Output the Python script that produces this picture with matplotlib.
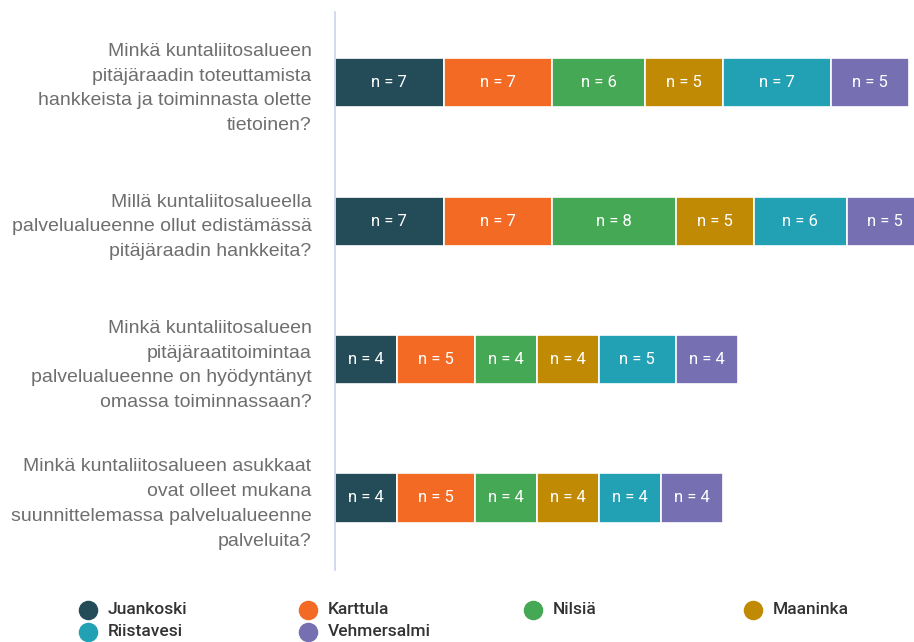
import matplotlib.pyplot as plt
import numpy as np

plt.rcParams['font.family'] = ['Roboto', 'DejaVu Sans']

# Kysymykset (rivit ylhäältä alas)
kysymykset = [
    "Minkä kuntaliitosalueen\npitäjäraadin toteuttamista\nhankkeista ja toiminnasta olette\ntietoinen?",
    "Millä kuntaliitosalueella\npalvelualueenne ollut edistämässä\npitäjäraadin hankkeita?",
    "Minkä kuntaliitosalueen\npitäjäraatitoimintaa\npalvelualueenne on hyödyntänyt\nomassa toiminnassaan?",
    "Minkä kuntaliitosalueen asukkaat\novat olleet mukana\nsuunnittelemassa palvelualueenne\npalveluita?",
]

alueet = ["Juankoski", "Karttula", "Nilsiä", "Maaninka", "Riistavesi", "Vehmersalmi"]
varit = ["#234B58", "#F26A24", "#45A854", "#C18A04", "#22A1B5", "#7670B3"]

# n-arvot per alue, järjestyksessä kysymykset
juankoski = [7, 7, 4, 4]
karttula = [7, 7, 5, 5]
nilsia = [6, 8, 4, 4]
maaninka = [5, 5, 4, 4]
riistavesi = [7, 6, 5, 4]
vehmersalmi = [5, 5, 4, 4]
arvot = [juankoski, karttula, nilsia, maaninka, riistavesi, vehmersalmi]

fig = plt.figure(figsize=(9.14, 6.42), dpi=100)
ax = fig.add_axes([335/914, 72/642, 1 - 335/914, 558/642])

y = np.arange(len(kysymykset))
vasen = np.zeros(len(kysymykset))
for nimi, vari, n in zip(alueet, varit, arvot):
    n = np.array(n)
    bars = ax.barh(y, n, left=vasen, height=0.355, color=vari,
                   edgecolor="white", linewidth=1.2, label=nimi)
    for rect, val in zip(bars, n):
        ax.text(rect.get_x() + rect.get_width()/2, rect.get_y() + rect.get_height()/2,
                f"n = {val}", ha="center", va="center", color="white", fontsize=12)
    vasen += n

ax.set_xlim(0, 37.35)
ax.set_ylim(3.52, -0.51)
ax.set_xticks([])
ax.set_yticks(y)
ax.set_yticklabels(kysymykset, fontsize=14, color="#6E6E6E", linespacing=1.6,
                   family=["Liberation Sans", "DejaVu Sans"])
ax.tick_params(axis="y", length=0, pad=17)
for s in ["top", "right", "bottom"]:
    ax.spines[s].set_visible(False)
ax.spines["left"].set_color("#C9D3EA")
ax.spines["left"].set_linewidth(1.2)

# Selite käsin, 4 saraketta
lax = fig.add_axes([0, 0, 1, 72/642])
lax.set_xlim(0, 914)
lax.set_ylim(72, 0)
lax.axis("off")
sarake_x = [88, 308, 533, 753]
rivi_y = [40, 62]
for i, (nimi, vari) in enumerate(zip(alueet, varit)):
    sx = sarake_x[i % 4]
    sy = rivi_y[i // 4]
    lax.scatter([sx], [sy], s=170, color=vari, clip_on=False)
    lax.text(sx + 20, sy, nimi, va="center", ha="left", fontsize=12.5,
             color="#333333", fontweight="medium")

fig.savefig("out.png", dpi=100)
